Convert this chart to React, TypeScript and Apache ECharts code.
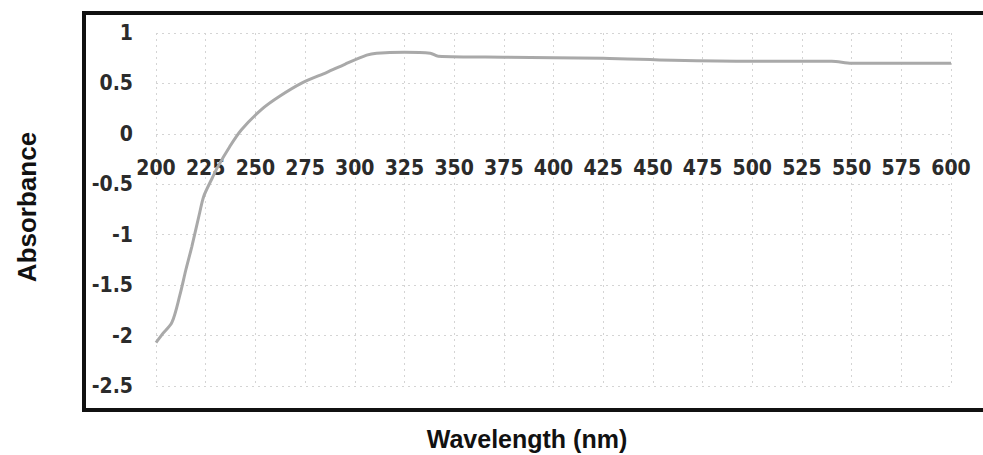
import React, { useEffect, useRef } from "react";
import * as echarts from "echarts";

const wavelengths = [200, 203, 208, 212, 215, 218, 222, 224, 228, 231, 237, 243, 253, 262, 274, 286, 295, 306, 311, 325, 338, 342, 375, 425, 460, 500, 540, 550, 600];
const absorbance = [-2.07, -1.99, -1.87, -1.6, -1.35, -1.12, -0.78, -0.62, -0.45, -0.33, -0.13, 0.04, 0.24, 0.37, 0.51, 0.61, 0.69, 0.78, 0.8, 0.81, 0.8, 0.77, 0.76, 0.75, 0.73, 0.72, 0.72, 0.7, 0.7];
const yTitle = "Absorbance";
const xTitle = "Wavelength (nm)";

export default function App() {
  const ref = useRef<HTMLDivElement>(null);
  useEffect(() => {
    if (!ref.current) return;
    const chart = echarts.init(ref.current, null, { renderer: "svg" });
    const labelFont = {
      fontFamily: "'DejaVu Sans Condensed', 'DejaVu Sans', sans-serif",
      fontWeight: "bold" as const,
      fontSize: 21,
      color: "#2b2b2b",
    };
    chart.setOption({
      animation: false,
      backgroundColor: "#ffffff",
      grid: { left: 156, top: 33, width: 795, height: 353, containLabel: false },
      xAxis: {
        type: "value",
        min: 200,
        max: 600,
        interval: 25,
        position: "bottom",
        offset: -252,
        axisLine: { show: false, onZero: false },
        axisTick: { show: false },
        axisLabel: { ...labelFont, margin: 23, showMinLabel: true, showMaxLabel: true },
        splitLine: { show: true, lineStyle: { color: "#d4d4d4", type: [2, 4], width: 1 } },
      },
      yAxis: {
        type: "value",
        min: -2.5,
        max: 1,
        interval: 0.5,
        axisLine: { show: false },
        axisTick: { show: false },
        axisLabel: { ...labelFont, margin: 23 },
        splitLine: { show: true, lineStyle: { color: "#d4d4d4", type: [2, 4], width: 1 } },
      },
      graphic: [
        {
          type: "rect",
          shape: { x: 84, y: 13, width: 1000, height: 397 },
          style: { fill: "none", stroke: "#111", lineWidth: 4 },
          z: 10,
        },
        {
          type: "text",
          x: 27,
          y: 207,
          rotation: Math.PI / 2,
          style: {
            text: yTitle,
            fontFamily: "Liberation Sans",
            fontWeight: "bold",
            fontSize: 26,
            fill: "#111",
            textAlign: "center",
            textVerticalAlign: "middle",
          },
        },
        {
          type: "text",
          x: 527,
          y: 439,
          style: {
            text: xTitle,
            fontFamily: "Liberation Sans",
            fontWeight: "bold",
            fontSize: 25,
            fill: "#111",
            textAlign: "center",
            textVerticalAlign: "middle",
          },
        },
      ],
      series: [
        {
          type: "line",
          data: wavelengths.map((w, i) => [w, absorbance[i]]),
          smooth: 0.3,
          showSymbol: false,
          lineStyle: { color: "#a9a9a9", width: 3 },
        },
      ],
    });
    return () => chart.dispose();
  }, []);
  return (
    <div
      ref={ref}
      style={{ position: "fixed", left: 0, top: 0, width: 983, height: 455 }}
    />
  );
}
